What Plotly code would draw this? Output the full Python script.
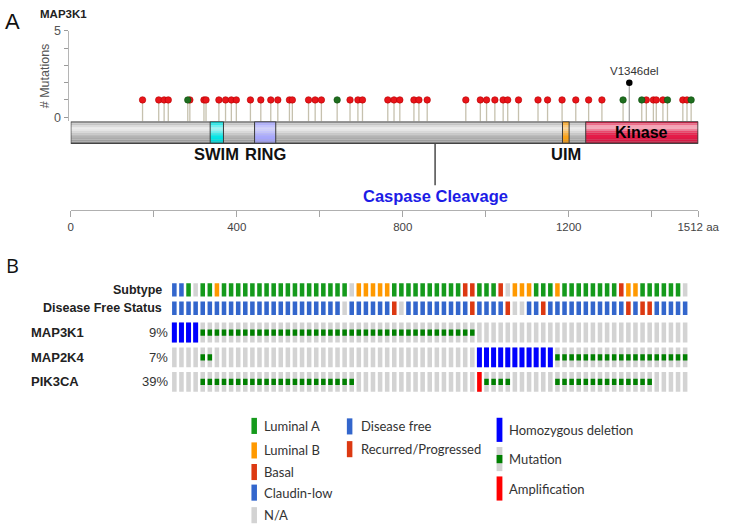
import plotly.graph_objects as go

W, H = 746, 528

# ===================== DATA =====================
# Panel A : MAP3K1 protein / mutations
GENE = "MAP3K1"
PROTEIN_LEN = 1512
DOMAIN_NAMES = ["SWIM", "RING", "UIM", "Kinase"]
DOMAIN_START = [336, 443, 1185, 1241]
DOMAIN_END = [368, 494, 1201, 1512]
CLEAVAGE_POS = 878
CLEAVAGE_LABEL = "Caspase Cleavage"

TRUNC_POS = [173, 212, 225, 235, 287, 321, 326, 357, 373, 387, 399, 433, 458, 482, 499,
             527, 534, 573, 589, 604, 673, 692, 703, 764, 779, 793, 827, 839, 859, 952,
             987, 1002, 1022, 1042, 1053, 1079, 1126, 1149, 1184, 1217, 1248, 1280, 1387,
             1404, 1411, 1427, 1475, 1485]
TRUNC_CNT = [1, 1, 1, 1, 1, 1, 1, 1, 1, 1, 1, 1, 1, 1, 1, 1, 1, 1, 1, 1, 1, 1, 1, 1,
             1, 1, 1, 1, 1, 1, 1, 1, 1, 1, 1, 1, 1, 1, 1, 1, 1, 1, 1, 1, 1, 1, 1, 1]
MISSENSE_POS = [282, 642, 1331, 1376, 1438, 1495]
MISSENSE_CNT = [1, 1, 1, 1, 1, 1]
INFRAME_POS = [1346]
INFRAME_CNT = [2]
INFRAME_LABEL = ["V1346del"]

Y_TICKS = [0, 1, 2, 3, 4, 5]
Y_TICK_LABELS = ["0", "", "", "", "", "5"]
RULER_TICKS = [0, 200, 400, 600, 800, 1000, 1200, 1400, 1512]
RULER_LABELS = ["0", "", "400", "", "800", "", "1200", "", "1512 aa"]

# Panel B : oncoprint (73 samples)
SUBTYPE = ("CCANAABAAA" "AAAAAAAAAA" "AAAAANBBBB" "BAAAAAAAAA" "ASSAAASNBB"
           "BAAABAAAAA" "AAASBBAAAA" "AAN")
DFS = ("FFFFFFFFFF" "FFFFFFFFFF" "FFFFNFFFFF" "FRNFFFFFFF" "FFRFFFFRNN"
       "FFRFFFFFFF" "FFFFRFRRFF" "FFF")
GENES = ["MAP3K1", "MAP2K4", "PIK3CA"]
GENE_PCT = ["9%", "7%", "39%"]
GENE_ALT = [
    ("DDDDMMMMMM" "MMMMMMMMMM" "MMMMMMMMMM" "MMMMMMMMMM" "MMM......."
     ".........." ".........." "..."),
    ("....MM...." ".........." ".........." ".........." "...DDDDDDD"
     "DDDDMMMMMM" "MMMMMMMMMM" "MMM"),
    ("....MMMMMM" "MMMMMMMMMM" "MMMMMM...." ".........." "...AMMMM.."
     "....MMMMMM" "MMMMMMMM.." "..."),
]
SUBTYPE_KEYS = ["A", "B", "S", "C", "N"]
SUBTYPE_NAMES = ["Luminal A", "Luminal B", "Basal", "Claudin-low", "N/A"]
DFS_KEYS = ["F", "R"]
DFS_NAMES = ["Disease free", "Recurred/Progressed"]
ALT_NAMES = ["Homozygous deletion", "Mutation", "Amplification"]

# ===================== STYLE / GEOMETRY =====================
SUB_COL = {"A": "#159a1c", "B": "#ff9900", "S": "#dc3912", "C": "#3366cc", "N": "#d3d3d3"}
DFS_COL = {"F": "#3366cc", "R": "#dc3912", "N": "#d3d3d3"}
GRAY = "#d3d3d3"
MUT_GREEN = "#008000"
HOMDEL = "#0000ff"
AMP = "#ff0000"

FONT = "Liberation Sans, Arial, sans-serif"
LFONT = "Lato, Open Sans, sans-serif"


def PX(x):
    return x / W


def PY(y):
    return 1 - y / H


# panel A geometry (pixels)
AX_L, AX_R = 70.0, 718.3
YAX_X = 66.7
LOLLI_TOP = 24.3
BAR_TOP, BAR_BOT = 116.7, 139.0
LOW_BOT = 200.0
RULER_Y = 206.7
Y_MIN = -0.25
UNIT = BAR_BOT - BAR_TOP


def y3(px):
    return 1 - (px - BAR_TOP) / UNIT


# panel B geometry (pixels)
COL0_LEFT, COL_PITCH, CELL_W = 174.7, 7.33, 4.7
NCOL = len(SUBTYPE)
ROW_TOP = {"sub": 281.7, "dfs": 300.3, 0: 321.7, 1: 347.0, 2: 372.0}
ROW_H = {"sub": 13.3, "dfs": 13.7, 0: 20.3, 1: 20.3, 2: 20.3}
MUT_OFF, MUT_H = 7.0, 6.3
OP_TOP, OP_BOT = 276.0, 396.0

fig = go.Figure()

# ---------------- Panel A: lollipops ----------------
stem_x, stem_y = [], []
for p, c in zip(TRUNC_POS + MISSENSE_POS, TRUNC_CNT + MISSENSE_CNT):
    stem_x += [p, p, None]
    stem_y += [Y_MIN, c, None]
fig.add_trace(go.Scatter(x=stem_x, y=stem_y, mode="lines",
                         line=dict(color="#c6c1ae", width=1.3),
                         xaxis="x", yaxis="y", hoverinfo="skip"))
ix, iy = [], []
for p, c in zip(INFRAME_POS, INFRAME_CNT):
    ix += [p, p, None]
    iy += [Y_MIN, c, None]
fig.add_trace(go.Scatter(x=ix, y=iy, mode="lines",
                         line=dict(color="#a8a8a8", width=1.3),
                         xaxis="x", yaxis="y", hoverinfo="skip"))
fig.add_trace(go.Scatter(x=TRUNC_POS, y=TRUNC_CNT, mode="markers",
                         marker=dict(size=6.5, color="#e8141a",
                                     line=dict(color="#b80000", width=0.6)),
                         xaxis="x", yaxis="y"))
fig.add_trace(go.Scatter(x=MISSENSE_POS, y=MISSENSE_CNT, mode="markers",
                         marker=dict(size=6.5, color="#1e6e1e",
                                     line=dict(color="#0f4f0f", width=0.6)),
                         xaxis="x", yaxis="y"))
fig.add_trace(go.Scatter(x=INFRAME_POS, y=INFRAME_CNT, mode="markers",
                         marker=dict(size=6.5, color="#000000"),
                         xaxis="x", yaxis="y"))

# caspase cleavage line
fig.add_trace(go.Scatter(x=[CLEAVAGE_POS, CLEAVAGE_POS], y=[0, y3(181.7)], mode="lines",
                         line=dict(color="#555555", width=1.6),
                         xaxis="x", yaxis="y3", hoverinfo="skip"))
# dummy trace for ruler axis
fig.add_trace(go.Scatter(x=[0], y=[0], mode="markers", marker=dict(opacity=0),
                         xaxis="x2", yaxis="y4", hoverinfo="skip"))

shapes = []


def shade(rgb, p):
    if p >= 0:
        return "rgb(%d,%d,%d)" % tuple(round(c + (255 - c) * p) for c in rgb)
    return "rgb(%d,%d,%d)" % tuple(round(c * (1 + p)) for c in rgb)


PROFILE = [-0.05, 0.25, 0.55, 0.72, 0.7, 0.5, 0.3, 0.15, 0.05, -0.03, -0.1, -0.18]


def bands(x0, x1, rgb, prof=PROFILE):
    n = len(prof)
    for k, p in enumerate(prof):
        shapes.append(dict(type="rect", xref="x", yref="y3", x0=x0, x1=x1,
                           y0=1 - (k + 1) / n, y1=1 - k / n + 0.002,
                           fillcolor=shade(rgb, p), line=dict(width=0), layer="above"))


bands(0, PROTEIN_LEN, (176, 176, 176))
DOM_RGB = [(0, 228, 228), (165, 165, 250), (250, 160, 20), (228, 28, 72)]
DOM_PROF = [[-0.05, 0.2, 0.45, 0.6, 0.6, 0.45, 0.25, 0.12, 0.04, 0.0, -0.05, -0.1],
            [-0.05, 0.15, 0.35, 0.45, 0.45, 0.35, 0.2, 0.1, 0.04, 0.0, -0.03, -0.08],
            [-0.05, 0.2, 0.45, 0.55, 0.5, 0.35, 0.2, 0.1, 0.03, 0.0, -0.05, -0.1],
            [-0.05, 0.35, 0.6, 0.62, 0.45, 0.2, 0.06, 0.0, 0.0, -0.03, -0.06, -0.12]]
for s, e, rgb, prof in zip(DOMAIN_START, DOMAIN_END, DOM_RGB, DOM_PROF):
    bands(s, e, rgb, prof)
for s, e in zip(DOMAIN_START, DOMAIN_END):
    shapes.append(dict(type="rect", xref="x", yref="y3", x0=s, x1=e, y0=0, y1=1,
                       line=dict(color="#3a3a3a", width=1), layer="above"))
shapes.append(dict(type="rect", xref="x", yref="y3", x0=0, x1=PROTEIN_LEN, y0=0, y1=1,
                   line=dict(color="#444444", width=1.3), layer="above"))

annotations = []
# domain labels
for name, s, e in zip(DOMAIN_NAMES, DOMAIN_START, DOMAIN_END):
    if name == "Kinase":
        annotations.append(dict(x=(s + e) / 2, y=0.5, xref="x", yref="y3",
                                text="<b>%s</b>" % name, showarrow=False,
                                font=dict(family=FONT, size=16, color="#000")))
    else:
        annotations.append(dict(x=(s + e) / 2, y=y3(150), xref="x", yref="y3",
                                text="<b>%s</b>" % name, showarrow=False,
                                font=dict(family=FONT, size=16.5, color="#111")))
annotations.append(dict(x=CLEAVAGE_POS, y=y3(192.5), xref="x", yref="y3",
                        text="<b>%s</b>" % CLEAVAGE_LABEL, showarrow=False,
                        font=dict(family=FONT, size=16.5, color="#1c1ce6")))
for p, c, lab in zip(INFRAME_POS, INFRAME_CNT, INFRAME_LABEL):
    annotations.append(dict(x=p, y=c, xref="x", yref="y", text=lab, showarrow=False,
                            yshift=12, xshift=5,
                            font=dict(family=FONT, size=11.5, color="#333")))

annotations += [
    dict(x=PX(0), y=PY(15), xref="paper", yref="paper", text="A", showarrow=False,
         xanchor="left", yanchor="middle", font=dict(family=FONT, size=22, color="#111")),
    dict(x=PX(36.5), y=PY(7.5), xref="paper", yref="paper", text="<b>%s</b>" % GENE,
         showarrow=False, xanchor="left", yanchor="middle",
         font=dict(family=FONT, size=11.5, color="#222")),
    dict(x=PX(43), y=PY(70), xref="paper", yref="paper", text="# Mutations",
         textangle=-90, showarrow=False, xanchor="center", yanchor="middle",
         font=dict(family=FONT, size=12.5, color="#555")),
    dict(x=PX(1), y=PY(263), xref="paper", yref="paper", text="B", showarrow=False,
         xanchor="left", yanchor="middle",
         font=dict(family="Open Sans, sans-serif", size=20, color="#111")),
]

# ---------------- Panel B: oncoprint ----------------
cols = list(range(NCOL))
bw = CELL_W / COL_PITCH


def add_bars(xs, top, h, colors, width=bw):
    if not xs:
        return
    fig.add_trace(go.Bar(x=xs, y=[h] * len(xs), base=[top] * len(xs),
                         marker=dict(color=colors, line=dict(width=0)),
                         width=width, xaxis="x3", yaxis="y5", hoverinfo="skip"))


add_bars(cols, ROW_TOP["sub"], ROW_H["sub"], [SUB_COL[k] for k in SUBTYPE])
add_bars(cols, ROW_TOP["dfs"], ROW_H["dfs"], [DFS_COL[k] for k in DFS])
for g, alt in enumerate(GENE_ALT):
    top, h = ROW_TOP[g], ROW_H[g]
    add_bars(cols, top, h, GRAY)
    dcols = [i for i, a in enumerate(alt) if a == "D"]
    add_bars(dcols, top, h, HOMDEL, width=bw * 1.1)
    acols = [i for i, a in enumerate(alt) if a == "A"]
    add_bars(acols, top, h, AMP)
    mcols = [i for i, a in enumerate(alt) if a == "M"]
    add_bars(mcols, top + MUT_OFF, MUT_H, MUT_GREEN)

# track labels
for key, lab in [("sub", "Subtype"), ("dfs", "Disease Free Status")]:
    annotations.append(dict(x=PX(166.5), y=PY(ROW_TOP[key] + ROW_H[key] / 2),
                            xref="paper", yref="paper", text="<b>%s</b>" % lab,
                            showarrow=False, xanchor="right", yanchor="middle",
                            font=dict(family=FONT, size=12.5, color="#222")))
for g, (gname, pct) in enumerate(zip(GENES, GENE_PCT)):
    yc = PY(ROW_TOP[g] + ROW_H[g] / 2)
    annotations.append(dict(x=PX(26.5), y=yc, xref="paper", yref="paper",
                            text="<b>%s</b>" % gname, showarrow=False,
                            xanchor="left", yanchor="middle",
                            font=dict(family=FONT, size=13, color="#222")))
    annotations.append(dict(x=PX(172.5), y=yc, xref="paper", yref="paper", text=pct,
                            showarrow=False, xanchor="right", yanchor="middle",
                            font=dict(family=FONT, size=13, color="#333")))

# ---------------- Legend ----------------
LEG1_X, LEG1_W = 256.7, 5.7
LEG1_Y = [427, 452, 474, 495, 518]
for key, name, yc in zip(SUBTYPE_KEYS, SUBTYPE_NAMES, LEG1_Y):
    shapes.append(dict(type="rect", xref="paper", yref="paper",
                       x0=PX(LEG1_X), x1=PX(LEG1_X + LEG1_W),
                       y0=PY(yc + 8.2), y1=PY(yc - 8.2),
                       fillcolor=SUB_COL[key], line=dict(width=0)))
    annotations.append(dict(x=PX(269), y=PY(yc), xref="paper", yref="paper", text=name,
                            showarrow=False, xanchor="left", yanchor="middle",
                            borderpad=0,
                            font=dict(family=LFONT, size=13, color="#333")))
LEG2_X = 355.3
LEG2_Y = [427.5, 450.7]
for key, name, yc in zip(DFS_KEYS, DFS_NAMES, LEG2_Y):
    shapes.append(dict(type="rect", xref="paper", yref="paper",
                       x0=PX(LEG2_X), x1=PX(LEG2_X + LEG1_W),
                       y0=PY(yc + 8.2), y1=PY(yc - 8.2),
                       fillcolor=DFS_COL[key], line=dict(width=0)))
    annotations.append(dict(x=PX(367.5), y=PY(yc), xref="paper", yref="paper", text=name,
                            showarrow=False, xanchor="left", yanchor="middle",
                            font=dict(family=LFONT, size=13, color="#333")))
LEG3_X, LEG3_W = 510.0, 6.0
LEG3_Y = [431, 460.8, 490.8]
LEG3_COL = [HOMDEL, GRAY, AMP]
for name, yc, colr in zip(ALT_NAMES, LEG3_Y, LEG3_COL):
    shapes.append(dict(type="rect", xref="paper", yref="paper",
                       x0=PX(LEG3_X), x1=PX(LEG3_X + LEG3_W),
                       y0=PY(yc + 12.3), y1=PY(yc - 12.3),
                       fillcolor=colr, line=dict(width=0)))
    if name == "Mutation":
        shapes.append(dict(type="rect", xref="paper", yref="paper",
                           x0=PX(LEG3_X), x1=PX(LEG3_X + LEG3_W),
                           y0=PY(yc + 4.2), y1=PY(yc - 4.2),
                           fillcolor=MUT_GREEN, line=dict(width=0)))
    annotations.append(dict(x=PX(520.5), y=PY(yc), xref="paper", yref="paper", text=name,
                            showarrow=False, xanchor="left", yanchor="middle",
                            font=dict(family=LFONT, size=13, color="#333")))

# ---------------- Layout ----------------
op_left = COL0_LEFT + CELL_W / 2 - COL_PITCH * 0.5
op_right = op_left + COL_PITCH * NCOL

fig.update_layout(
    width=W, height=H, margin=dict(l=0, r=0, t=0, b=0),
    paper_bgcolor="white", plot_bgcolor="rgba(0,0,0,0)",
    showlegend=False, barmode="overlay",
    xaxis=dict(domain=[PX(AX_L), PX(AX_R)], range=[0, PROTEIN_LEN], visible=False,
               anchor="y"),
    yaxis=dict(domain=[PY(BAR_TOP), PY(LOLLI_TOP)], range=[Y_MIN, 5],
               anchor="free", position=PX(YAX_X),
               tickvals=Y_TICKS, ticktext=Y_TICK_LABELS, ticks="outside", ticklen=4,
               tickcolor="#9a9a9a", showline=True, linecolor="#b5b5b5", linewidth=1,
               showgrid=False, zeroline=False,
               tickfont=dict(family=FONT, size=12.5, color="#555")),
    yaxis3=dict(domain=[PY(LOW_BOT), PY(BAR_TOP)], range=[y3(LOW_BOT), 1],
                visible=False, anchor="x"),
    xaxis2=dict(domain=[PX(AX_L), PX(AX_R)], range=[0, PROTEIN_LEN], anchor="y4",
                tickvals=RULER_TICKS, ticktext=RULER_LABELS, ticks="outside", ticklen=6,
                tickcolor="#a5a5a5", showline=True, linecolor="#b0b0b0", linewidth=1,
                showgrid=False, zeroline=False,
                tickfont=dict(family=FONT, size=11.5, color="#444")),
    yaxis4=dict(domain=[PY(RULER_Y), PY(RULER_Y - 2)], range=[0, 1], visible=False,
                anchor="x2"),
    xaxis3=dict(domain=[PX(op_left), PX(op_right)], range=[-0.5, NCOL - 0.5],
                visible=False, anchor="y5"),
    yaxis5=dict(domain=[PY(OP_BOT), PY(OP_TOP)], range=[OP_BOT, OP_TOP],
                visible=False, anchor="x3"),
    shapes=shapes, annotations=annotations,
)

fig.write_html("out.html",
               config={"displayModeBar": False},
               post_script="document.body.style.margin='0px';"
                           "document.body.style.overflow='hidden';")
